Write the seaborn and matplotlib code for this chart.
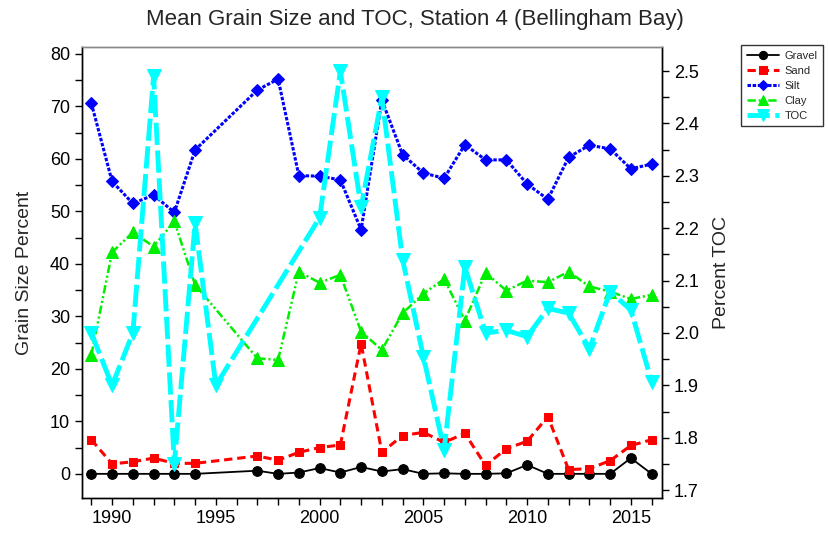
import numpy as np
import pandas as pd
import matplotlib
matplotlib.use("Agg")
import matplotlib.pyplot as plt
from matplotlib.ticker import MultipleLocator
import seaborn as sns

# Jahre der Korngroessen-Proben (1995/1996 fehlen)
grain_years = [1989, 1990, 1991, 1992, 1993, 1994,
               1997, 1998, 1999, 2000, 2001, 2002, 2003, 2004, 2005, 2006,
               2007, 2008, 2009, 2010, 2011, 2012, 2013, 2014, 2015, 2016]
gravel = [0, 0, 0, 0, 0, 0,
          0.6, 0, 0.25, 1.1, 0.25, 1.3, 0.45, 0.9, 0, 0.1,
          0, 0, 0.1, 1.7, 0, 0, 0, 0, 3.0, 0]
sand = [6.5, 1.9, 2.3, 3.0, 2.0, 2.0,
        3.4, 2.6, 4.1, 5.0, 5.5, 24.8, 4.1, 7.3, 7.9, 6.0,
        7.7, 1.6, 4.8, 6.2, 10.9, 0.8, 1.0, 2.5, 5.4, 6.5]
silt = [70.6, 55.7, 51.5, 53.1, 49.8, 61.7,
        73.1, 75.2, 56.8, 56.7, 56.0, 46.5, 71.2, 60.8, 57.3, 56.3,
        62.7, 59.8, 59.8, 55.2, 52.3, 60.3, 62.6, 61.9, 58.1, 59.0]
clay = [22.7, 42.2, 46.0, 43.3, 48.1, 36.0,
        22.0, 21.7, 38.5, 36.4, 37.9, 27.1, 23.6, 30.6, 34.3, 37.1,
        29.2, 38.3, 34.9, 36.8, 36.5, 38.5, 35.7, 34.7, 33.3, 34.1]

# TOC (rechte Achse)
toc_years = [1989, 1990, 1991, 1992, 1993, 1994, 1995,
             2000, 2001, 2002, 2003, 2004, 2005, 2006, 2007, 2008,
             2009, 2010, 2011, 2012, 2013, 2014, 2015, 2016]
toc = [2.0, 1.9, 2.0, 2.49, 1.75, 2.21, 1.9,
       2.22, 2.5, 2.24, 2.45, 2.14, 1.955, 1.777, 2.126, 2.0,
       2.005, 1.993, 2.047, 2.038, 1.97, 2.079, 2.044, 1.907]

sns.set_style("ticks")
plt.rcParams['font.family'] = ['Liberation Sans', 'DejaVu Sans']
plt.rcParams['lines.scale_dashes'] = False

fig, ax = plt.subplots(figsize=(8.29, 5.33), dpi=100)
fig.subplots_adjust(left=82/829, right=662/829, top=1-47/533, bottom=1-498/533)
ax2 = ax.twinx()

sns.lineplot(x=grain_years, y=gravel, ax=ax, color="black", lw=1.3,
             marker="o", markersize=7, markeredgecolor="black",
             linestyle="-", label="Gravel", legend=False)
sns.lineplot(x=grain_years, y=sand, ax=ax, color="#ff0000", lw=2.2,
             marker="s", markersize=6, markeredgecolor="#ff0000",
             linestyle=(0, (6, 3.5)), label="Sand", legend=False)
sns.lineplot(x=grain_years, y=silt, ax=ax, color="#0000ff", lw=2.2,
             marker="D", markersize=6.5, markeredgecolor="#0000ff",
             linestyle=(0, (2.5, 1.2)), label="Silt", legend=False)
sns.lineplot(x=grain_years, y=clay, ax=ax, color="#00ee00", lw=1.8,
             marker="^", markersize=8, markeredgecolor="#00ee00",
             linestyle=(0, (6, 2, 1.5, 2, 1.5, 2)), label="Clay", legend=False)
sns.lineplot(x=toc_years, y=toc, ax=ax2, color="#00ffff", lw=3.5,
             marker="v", markersize=10, markeredgecolor="#00ffff",
             linestyle=(0, (16, 4)), label="TOC", legend=False)

ax.set_xlim(1988.55, 2016.5)
ax.set_ylim(-4.6, 81.3)
ax2.set_ylim(1.685, 2.546)

ax.xaxis.set_major_locator(MultipleLocator(5))
ax.xaxis.set_minor_locator(MultipleLocator(1))
ax.yaxis.set_major_locator(MultipleLocator(10))
ax.yaxis.set_minor_locator(MultipleLocator(5))
ax2.yaxis.set_major_locator(MultipleLocator(0.1))
ax2.yaxis.set_minor_locator(MultipleLocator(0.05))
ax2.yaxis.set_major_formatter(plt.FormatStrFormatter("%.1f"))

for a in (ax, ax2):
    a.tick_params(which="both", direction="out", length=5, width=1,
                  color="black", labelsize=13, labelcolor="black")
    for s in a.spines.values():
        s.set_color("black")
        s.set_linewidth(1)
    a.spines["top"].set_color("#888888")
    a.spines["top"].set_visible(True)
    a.spines["right"].set_visible(True)

ax.set_xlabel("")
ax.set_ylabel("Grain Size Percent", fontsize=14, labelpad=12)
ax2.set_ylabel("Percent TOC", fontsize=14, labelpad=10)
fig.suptitle("Mean Grain Size and TOC, Station 4 (Bellingham Bay)", fontsize=16,
             y=1-19/533, va="center")

handles = ax.get_lines()[:4] + ax2.get_lines()[:1]
labels = ["Gravel", "Sand", "Silt", "Clay", "TOC"]
leg = fig.legend(handles, labels, loc="upper left",
                 bbox_to_anchor=(741/829, 1-45/533), borderaxespad=0,
                 fontsize=8, frameon=True, fancybox=False, edgecolor="black",
                 handlelength=2.9, borderpad=0.5, labelspacing=0.45,
                 handletextpad=0.5, markerscale=0.85)
leg.get_frame().set_linewidth(1)

fig.savefig("out.png", dpi=100)
